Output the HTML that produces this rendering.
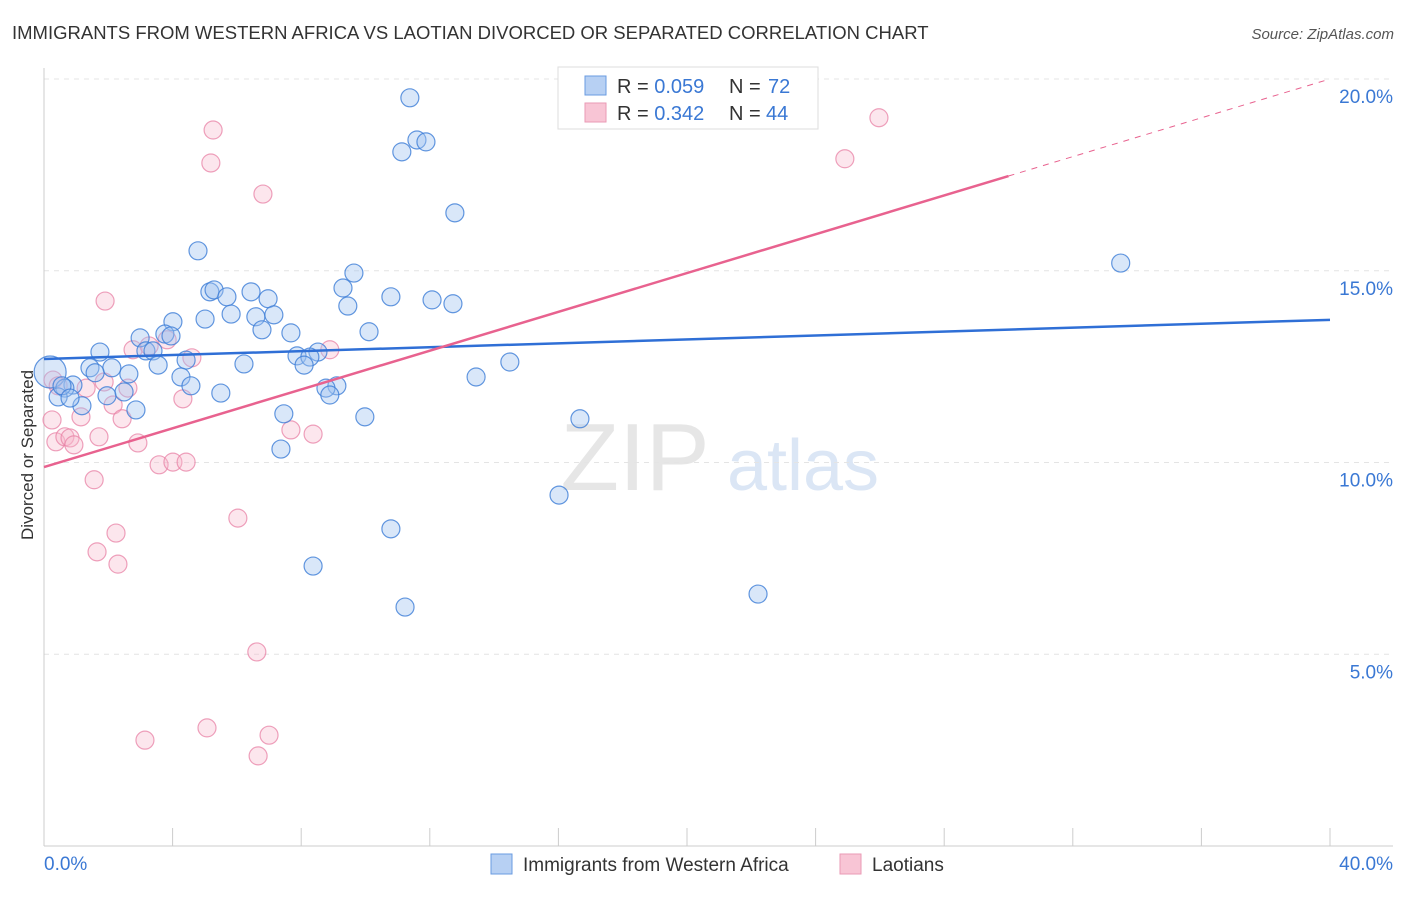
<!DOCTYPE html>
<html><head><meta charset="utf-8"><style>
body{margin:0;background:#fff;font-family:"Liberation Sans",sans-serif}
svg text{font-family:"Liberation Sans",sans-serif}
</style></head><body>
<svg id="c" width="1406" height="892">
<text x="12" y="39" font-size="18.5" fill="#333">IMMIGRANTS FROM WESTERN AFRICA VS LAOTIAN DIVORCED OR SEPARATED CORRELATION CHART</text>
<text x="1394" y="39" font-size="15" fill="#555" font-style="italic" text-anchor="end">Source: ZipAtlas.com</text>
<text x="33" y="455" font-size="17" fill="#333" text-anchor="middle" transform="rotate(-90 33 455)">Divorced or Separated</text>
<g><text x="635" y="490" font-size="96" fill="#e6e6e6" font-family="Liberation Serif" text-anchor="middle">ZIP</text><text x="803" y="490" font-size="72" fill="#dbe6f5" text-anchor="middle">atlas</text></g>
<g id="grid"></g><g id="axes"></g><g id="marks"></g>
<g>
<rect x="558" y="67" width="260" height="62" fill="#fff" stroke="#ddd"/>
<rect x="585" y="76" width="21" height="19" fill="#b7d0f3" stroke="#6a9be0"/>
<rect x="585" y="103" width="21" height="19" fill="#f8c5d5" stroke="#ea9ab5"/>
<text x="617" y="93" font-size="20" fill="#333">R = <tspan fill="#3a78d4">0.059</tspan><tspan x="729">N = </tspan><tspan x="768" fill="#3a78d4">72</tspan></text>
<text x="617" y="120" font-size="20" fill="#333">R = <tspan fill="#3a78d4">0.342</tspan><tspan x="729">N = </tspan><tspan x="766" fill="#3a78d4">44</tspan></text>
</g>
<g>
<rect x="491" y="854" width="21" height="20" fill="#b7d0f3" stroke="#6a9be0"/>
<text x="523" y="871" font-size="19" fill="#333">Immigrants from Western Africa</text>
<rect x="840" y="854" width="21" height="20" fill="#f8c5d5" stroke="#ea9ab5"/>
<text x="872" y="871" font-size="19" fill="#333">Laotians</text>
</g>
</svg>
<script>
const yTicks=[5,10,15,20];
const xTickLabels=["0.0%","40.0%"];
const blueX=[0.19,11.38,11.13,11.60,11.88,12.78,4.79,33.49,9.64,5.16,5.29,6.44,6.97,5.69,9.30,10.79,12.07,12.72,9.45,4.01,5.01,5.82,6.59,7.15,6.78,7.68,10.11,2.99,3.76,3.95,1.74,3.17,3.39,8.52,7.87,8.27,8.09,4.42,3.55,6.22,14.49,1.43,2.11,2.64,4.26,13.44,4.57,0.90,0.65,0.44,1.96,2.49,5.50,9.11,8.77,8.89,1.18,2.86,7.46,9.98,16.67,7.37,16.02,10.79,8.37,11.23,22.21,0.56,0.81,1.59];
const blueY=[12.36,19.51,18.10,18.41,18.36,16.51,15.52,15.20,14.94,14.45,14.50,14.45,14.27,14.32,14.55,14.32,14.24,14.14,14.08,13.67,13.74,13.87,13.80,13.85,13.46,13.38,13.41,13.25,13.35,13.30,12.88,12.91,12.91,12.88,12.78,12.75,12.54,12.67,12.54,12.57,12.62,12.47,12.47,12.31,12.23,12.23,12.00,12.02,11.94,11.71,11.74,11.84,11.81,12.00,11.94,11.76,11.48,11.37,11.27,11.19,11.14,10.35,9.15,8.27,7.30,6.23,6.57,12.00,11.68,12.34];
const pinkX=[5.26,25.97,5.19,24.91,6.81,1.90,2.77,3.27,3.83,4.60,8.89,0.28,1.31,1.87,2.61,0.44,2.15,1.15,2.43,4.32,0.25,0.37,0.65,0.81,0.93,1.71,2.92,7.68,8.37,1.56,3.58,4.01,4.42,6.03,2.24,1.65,2.30,6.62,5.07,7.00,3.14,6.66];
const pinkY=[18.67,18.99,17.81,17.92,17.00,14.21,12.94,13.04,13.20,12.73,12.94,12.15,11.94,12.10,11.94,12.00,11.50,11.19,11.14,11.66,11.11,10.54,10.67,10.64,10.46,10.67,10.51,10.85,10.74,9.55,9.94,10.01,10.01,8.55,8.16,7.67,7.35,5.06,3.08,2.89,2.76,2.35];
const blueLine=[12.70,13.72];
const pinkLine=[9.88,20.0];
const pinkSolidEnd=30;
const NS="http://www.w3.org/2000/svg";
const sx=v=>44+v/40*1286, sy=v=>846-v/20*767;
function mk(t,a,p){const e=document.createElementNS(NS,t);for(const k in a)e.setAttribute(k,a[k]);p.appendChild(e);return e;}
const grid=document.getElementById('grid'),axes=document.getElementById('axes'),marks=document.getElementById('marks');
yTicks.forEach(t=>{
 const l=mk('line',{x1:44,x2:1393,y1:sy(t),y2:sy(t),stroke:'#e4e4e4','stroke-dasharray':'5,5'},grid);
 
 
 const tx=mk('text',{x:1393,y:sy(t)+24,'font-size':19,fill:'#3a78d4','text-anchor':'end'},axes);
 tx.textContent=t.toFixed(1)+'%';
 
 
});
mk('line',{x1:44,x2:44,y1:68,y2:846,stroke:'#ccc'},axes);
mk('line',{x1:44,x2:1393,y1:846,y2:846,stroke:'#ccc'},axes);
for(let i=1;i<=10;i++){const x=sx(i*4);mk('line',{x1:x,x2:x,y1:828,y2:846,stroke:'#ccc'},axes);}
const xl=mk('text',{x:44,y:870,'font-size':19,fill:'#3a78d4'},axes);xl.textContent=xTickLabels[0];


const xr=mk('text',{x:1393,y:870,'font-size':19,fill:'#3a78d4','text-anchor':'end'},axes);xr.textContent=xTickLabels[1];


function pts(X,Y,fill,stroke,name){X.forEach((x,i)=>{
 const r=(i===0&&name==='blue-point')?16:9;
 const c=mk('circle',{cx:sx(x),cy:sy(Y[i]),r:r,fill:fill,stroke:stroke,'stroke-width':1.2},marks);
 
 
});}
pts(pinkX,pinkY,'rgba(246,182,202,0.35)','rgba(232,130,165,0.75)','pink-point');
pts(blueX,blueY,'rgba(160,195,240,0.4)','rgba(60,125,215,0.8)','blue-point');
const bl=mk('line',{x1:sx(0),y1:sy(blueLine[0]),x2:sx(40),y2:sy(blueLine[1]),stroke:'#2f6fd6','stroke-width':2.5},marks);


const pAt=x=>pinkLine[0]+(pinkLine[1]-pinkLine[0])*x/40;
const pl=mk('line',{x1:sx(0),y1:sy(pAt(0)),x2:sx(pinkSolidEnd),y2:sy(pAt(pinkSolidEnd)),stroke:'#e8628f','stroke-width':2.5},marks);


const pd=mk('line',{x1:sx(pinkSolidEnd),y1:sy(pAt(pinkSolidEnd)),x2:sx(40),y2:sy(pAt(40)),stroke:'#e8628f','stroke-width':1,'stroke-dasharray':'6,6'},marks);


</script>
</body></html>
